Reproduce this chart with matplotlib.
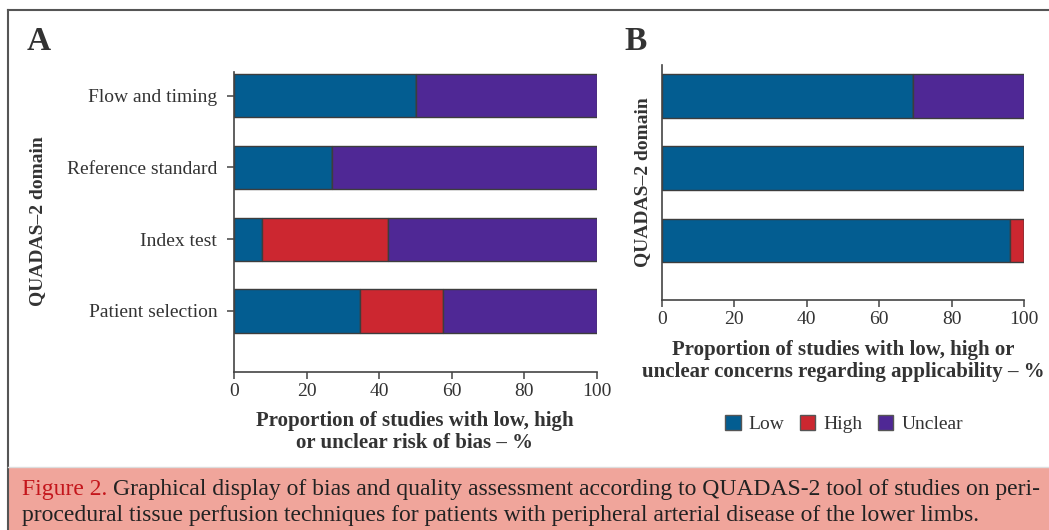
import matplotlib.pyplot as plt
from matplotlib.patches import Patch, Rectangle
from matplotlib.lines import Line2D

plt.rcParams['font.family'] = ['Liberation Serif', 'DejaVu Serif']

# data (% of 26 studies)
domains_a = ["Patient selection", "Index test", "Reference standard", "Flow and timing"]
low_a = [34.6, 7.7, 26.9, 50.0]
high_a = [23.1, 34.6, 0.0, 0.0]
unclear_a = [42.3, 57.7, 73.1, 50.0]

domains_b = ["Patient selection", "Index test", "Reference standard"]
low_b = [96.2, 100.0, 69.2]
high_b = [3.8, 0.0, 0.0]
unclear_b = [0.0, 0.0, 30.8]

categories = ["Low", "High", "Unclear"]
colors = ["#035d91", "#cc2730", "#4f2895"]
text_col = "#333333"
edge_col = "#3d3d3d"

fig = plt.figure(figsize=(10.49, 5.30), dpi=100)

ax_a = fig.add_axes([0.2231, 0.2981, 0.3460, 0.5661])
ax_b = fig.add_axes([0.6311, 0.4340, 0.3451, 0.4434])


def stacked(ax, labels, low, high, unclear, show_labels):
    pos = list(range(len(labels)))
    left = [0.0] * len(labels)
    for vals, c in zip([low, high, unclear], colors):
        ax.barh(pos, vals, left=left, height=0.6, color=c,
                edgecolor=edge_col, linewidth=1.0)
        left = [l + v for l, v in zip(left, vals)]
    ax.set_xlim(0, 100)
    ax.set_xticks([0, 20, 40, 60, 80, 100])
    ax.set_yticks(pos)
    if show_labels:
        ax.set_yticklabels(labels)
    else:
        ax.set_yticks([])
    for s in ["top", "right"]:
        ax.spines[s].set_visible(False)
    for s in ["left", "bottom"]:
        ax.spines[s].set_color("#444444")
        ax.spines[s].set_linewidth(1.2)
    ax.tick_params(axis="both", colors="#444444", labelcolor=text_col,
                   labelsize=14, length=5, width=1.1)
    ax.tick_params(axis="x", pad=3)
    ax.tick_params(axis="y", pad=7)


stacked(ax_a, domains_a, low_a, high_a, unclear_a, True)
ax_a.set_ylim(-0.85, 3.33)
stacked(ax_b, domains_b, low_b, high_b, unclear_b, False)
ax_b.set_ylim(-0.83, 2.43)

W, H = 1049, 530


def ft(x, y, s, **kw):
    fig.text(x / W, 1 - y / H, s, color=kw.pop("color", text_col), **kw)


ft(27, 42, "A", fontsize=24, fontweight="bold", va="center")
ft(624, 42, "B", fontsize=24, fontweight="bold", va="center")

ft(38, 221, "QUADAS–2 domain", fontsize=14, fontweight="bold",
   rotation=90, ha="center", va="center")
ft(643, 182, "QUADAS–2 domain", fontsize=14, fontweight="bold",
   rotation=90, ha="center", va="center")

ft(415, 432, "Proportion of studies with low, high\nor unclear risk of bias – %",
   fontsize=15, fontweight="bold", ha="center", va="center", linespacing=1.15)
ft(843, 361, "Proportion of studies with low, high or\nunclear concerns regarding applicability – %",
   fontsize=15, fontweight="bold", ha="center", va="center", linespacing=1.15)

handles = [Patch(facecolor=c, edgecolor="#555555", linewidth=1.0) for c in colors]
leg = fig.legend(handles, categories, loc="center", bbox_to_anchor=(844 / W, 1 - 424 / H),
                 ncol=3, frameon=False, fontsize=14, handlelength=0.8, handleheight=0.8,
                 handletextpad=0.4, columnspacing=0.8, borderpad=0)
for t in leg.get_texts():
    t.set_color(text_col)

# frame lines
fig.add_artist(Line2D([8 / W, 1], [1 - 10 / H, 1 - 10 / H], color="#555555", lw=1.5))
fig.add_artist(Line2D([8 / W, 8 / W], [0, 1 - 10 / H], color="#555555", lw=1.5))

# caption box
fig.add_artist(Rectangle((8 / W, 0), 1 - 8 / W, 63 / H, facecolor="#f0a59b",
                         edgecolor="none", transform=fig.transFigure, zorder=0))
fig.add_artist(Line2D([8 / W, 1], [63 / H, 63 / H], color="#dddddd", lw=1.0))

cap1 = fig.text(22 / W, 1 - 490 / H, "Figure 2.", color="#c4161c", fontsize=17,
                va="center")
fig.canvas.draw()
bb = cap1.get_window_extent(renderer=fig.canvas.get_renderer())
fig.text(bb.x1 / W + 6 / W, 1 - 490 / H,
         "Graphical display of bias and quality assessment according to QUADAS-2 tool of studies on peri-",
         color="#222222", fontsize=17, va="center")
fig.text(22 / W, 1 - 515 / H,
         "procedural tissue perfusion techniques for patients with peripheral arterial disease of the lower limbs.",
         color="#222222", fontsize=17, va="center")

fig.savefig("out.png", dpi=100)
